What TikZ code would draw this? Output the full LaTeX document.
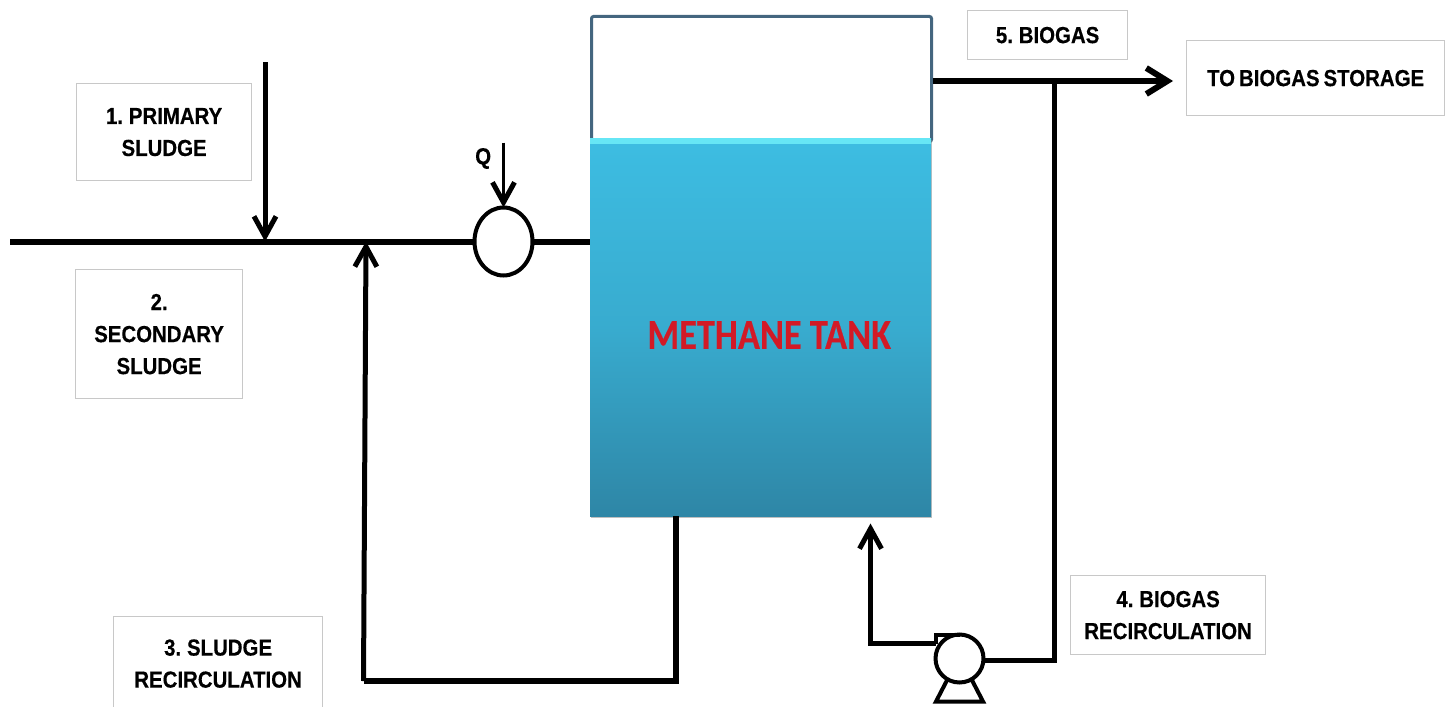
\documentclass[tikz,border=0pt]{standalone}
\usepackage{fontspec}
\setmainfont{Liberation Sans}[BoldFeatures={FakeBold=0.35,FakeStretch=0.88},WordSpace=0.7]
\newfontfamily\tankfont{Carlito}[BoldFeatures={FakeBold=0.3,FakeStretch=0.85}]
\usetikzlibrary{positioning,arrows.meta,shapes.geometric,shadows}
\definecolor{boxedge}{HTML}{C8C8C8}
\definecolor{tankedge}{HTML}{44667F}
\definecolor{watertop}{HTML}{3DBDE2}
\definecolor{waterbottom}{HTML}{2E86A6}
\definecolor{surfacecol}{HTML}{66E6F5}
\definecolor{tankred}{HTML}{D21A26}
\tikzstyle{label} = [draw=boxedge, line width=0.6pt, rectangle, inner sep=0pt, align=center, font=\fontsize{11.6}{16}\selectfont\bfseries]
\tikzstyle{pipe} = [line width=3pt]
\tikzstyle{feed} = [line width=2.5pt, -{Straight Barb[length=10pt,width=11pt,line width=2.5pt]}]
\tikzstyle{gasfeed} = [line width=3pt, -{Straight Barb[length=10.5pt,width=13pt,line width=3pt]}]
\tikzstyle{device} = [draw, line width=2pt, fill=white, inner sep=0pt, outer sep=0pt]

\begin{document}
\begin{tikzpicture}[auto]
		% anchor block
		\node[coordinate] (anchor) {};
		\node[coordinate,below right= 353pt and 724.5pt of anchor] (anchorend) {};
		\useasboundingbox (anchor) rectangle (anchorend);

		% labels
		\node[label,minimum width=87.5pt,minimum height=48.5pt,below right= 41.5pt and 38pt of anchor] (primary) {1. PRIMARY\\SLUDGE};
		\node[label,minimum width=83.5pt,minimum height=64.5pt,below right= 134.5pt and 37.5pt of anchor] (secondary) {2.\\SECONDARY\\SLUDGE};
		\node[label,minimum width=104.5pt,minimum height=47pt,below right= 308pt and 56.5pt of anchor] (sludgerec) {3. SLUDGE\\RECIRCULATION};
		\node[label,minimum width=97.5pt,minimum height=39.5pt,below right= 287.5pt and 535pt of anchor] (biogasrec) {4. BIOGAS\\RECIRCULATION};
		\node[label,minimum width=80pt,minimum height=24.5pt,below right= 5pt and 483.5pt of anchor] (biogas) {5. BIOGAS};
		\node[label,minimum width=129pt,minimum height=37.5pt,below right= 20pt and 593pt of anchor] (storage) {TO BIOGAS STORAGE};

		% tank
		\node[draw=tankedge,line width=1.5pt,rounded corners=1pt,fill=white,inner sep=0pt,minimum width=170pt,minimum height=62.5pt,below right= 7.5pt and 295pt of anchor] (gas) {};
		\node[inner sep=0pt,outer sep=0pt,minimum width=170.5pt,minimum height=189pt,top color=watertop,bottom color=waterbottom,middle color=watertop!68!waterbottom,drop shadow={shadow xshift=0.6pt,shadow yshift=-0.8pt,opacity=0.5},below right= 69pt and 295pt of anchor] (water) {};
		\node[inner sep=0pt,minimum width=170.5pt,minimum height=3pt,fill=surfacecol,below= 0pt of water.north] (surface) {};
		\node[coordinate,below right= 167.5pt and 323.5pt of anchor] (tanklabel) {};
		\node[right= 0pt of tanklabel,inner sep=0pt,text=tankred,font=\fontsize{21.4}{24}\selectfont\tankfont\bfseries] (tankname) {METHANE TANK};

		% feed line
		\node[coordinate,below right= 120.75pt and 5pt of anchor] (mainstart) {};
		\node[coordinate,above= 42.75pt of water.west] (tankinlet) {};
		\node[coordinate,right= 127.5pt of mainstart] (primaryend) {};
		\node[coordinate,above= 89.5pt of primaryend] (primarystart) {};
		\node[coordinate,right= 178pt of mainstart] (recircend) {};
		\node[coordinate,right= 246.75pt of mainstart] (valvecentre) {};
		\node[device,ellipse,minimum width=29pt,minimum height=34pt] at (valvecentre) (valve) {};
		\node[coordinate,above= 32.5pt of valve.north] (qstart) {};
		\node[left= 6pt of qstart,yshift=-8pt,inner sep=0pt,font=\fontsize{11.6}{16}\selectfont\bfseries] (qlabel) {Q};

		% pump
		\node[coordinate,below right= 329.25pt and 479.75pt of anchor] (pumpcentre) {};
		\node[device,circle,minimum size=24pt] at (pumpcentre) (pump) {};
		\node[coordinate,left= 12pt of pump.north] (pumpcasing) {};
		\node[coordinate,below= 4.5pt of pumpcasing] (pumpoutlet) {};
		\node[coordinate,left= 32.5pt of pumpoutlet] (returncorner) {};
		\node[coordinate,above= 60pt of returncorner] (tankreturn) {};
		\node[coordinate,below= 9.5pt of pump.south,xshift=-11.75pt] (baseleft) {};
		\node[coordinate,right= 23.5pt of baseleft] (baseright) {};

		% join feed line to tank
		\draw [pipe] (mainstart) -- (valve.west);
		\draw [pipe] (valve.east) -- (tankinlet);
		\draw [feed] (primarystart) -- (primaryend);
		\draw [feed,line width=1.75pt] (qstart) -- (valve.north);

		% join tank to feed line
		\node[coordinate,left= 42.5pt of water.south] (tankoutlet) {};
		\node[coordinate,below= 82.5pt of tankoutlet] (recirccornerb) {};
		\node[coordinate,left= 156pt of recirccornerb] (recirccornert) {};
		\draw [pipe] (tankoutlet) -- (recirccornerb) -- (recirccornert);
		\draw [feed] (recirccornert) -- (recircend);

		% join tank to storage and pump
		\node[coordinate,below= 1pt of gas.east] (gasoutlet) {};
		\node[coordinate,right= 120pt of gasoutlet] (gasend) {};
		\node[coordinate,right= 60.5pt of gasoutlet] (branch) {};
		\node[coordinate,below= 289.5pt of branch] (branchcorner) {};
		\draw [gasfeed] (gasoutlet) -- (gasend);
		\draw [feed,-] (branch) -- (branchcorner) -- (branchcorner -| pump.east);
		\draw [feed] (pumpoutlet) -- (returncorner) -- (tankreturn);

		% pump casing and base
		\draw [line width=2pt,line join=miter] (pump.north) -- (pumpcasing) -- (pumpoutlet);
		\draw [line width=2pt] (pump.240) -- (baseleft) -- (baseright) -- (pump.-60);
\end{tikzpicture}
\end{document}
